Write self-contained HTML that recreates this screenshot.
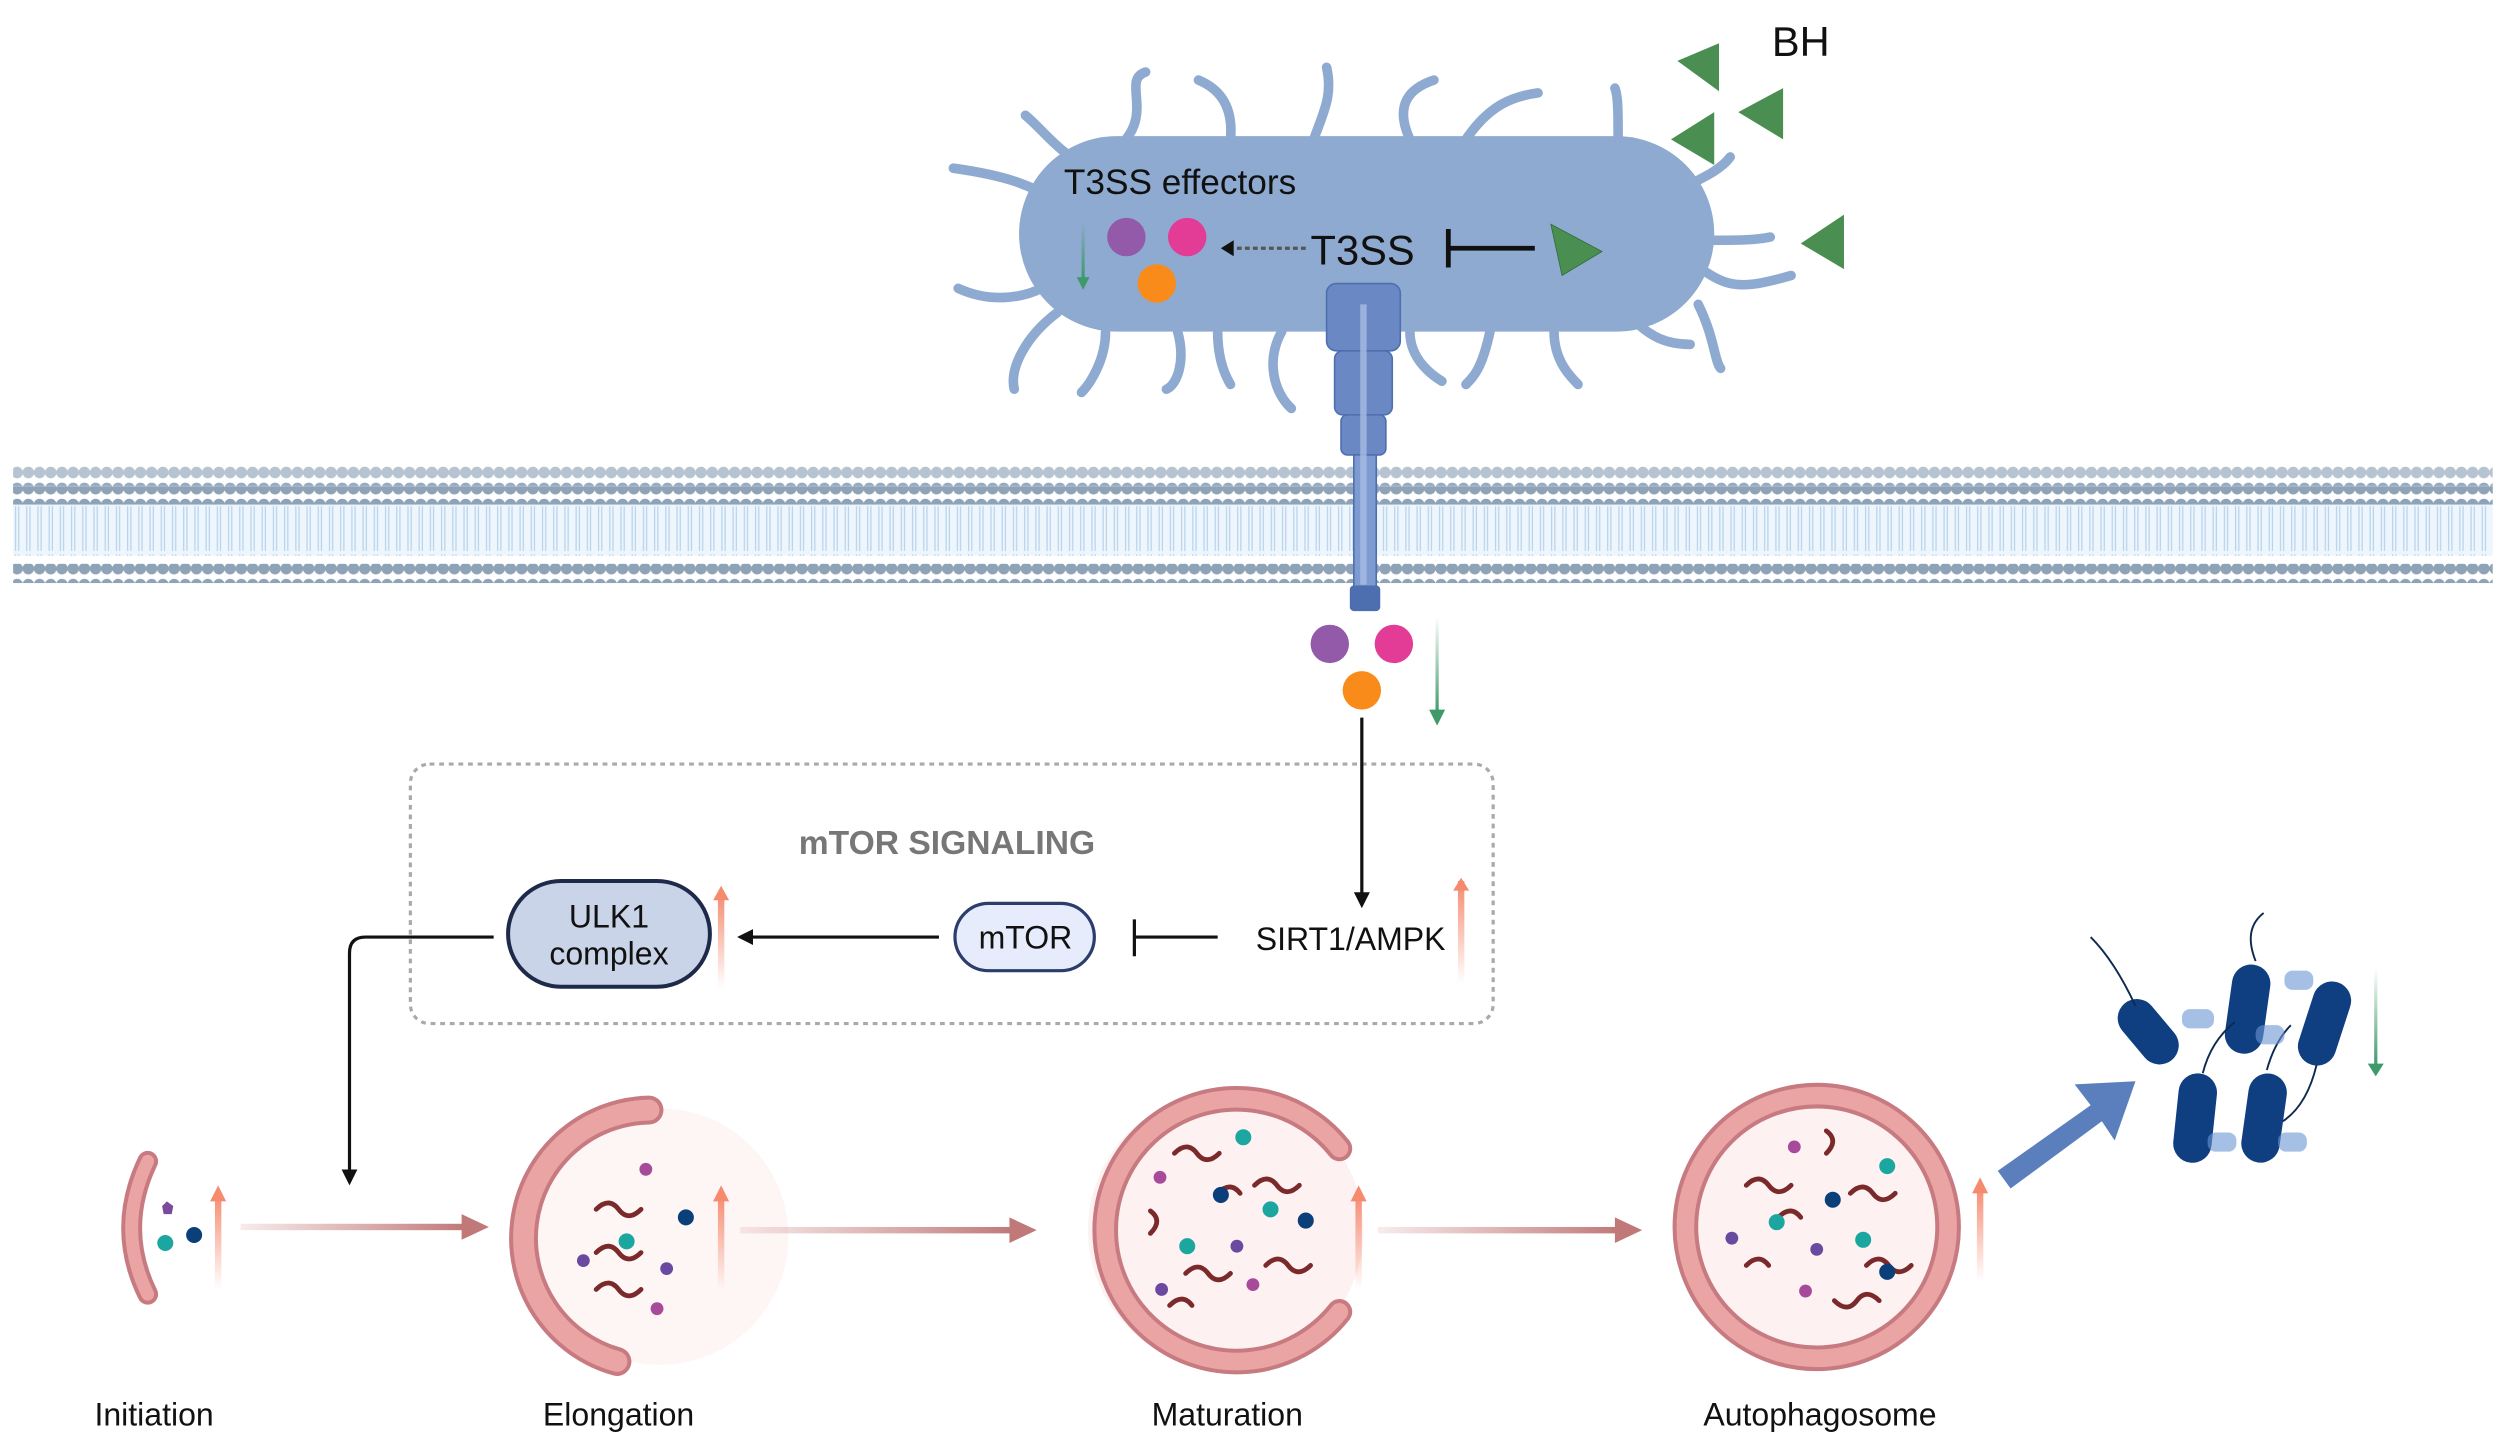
<!DOCTYPE html>
<html><head><meta charset="utf-8"><style>
html,body{margin:0;padding:0;background:#fff}
svg{display:block}
text{font-family:"Liberation Sans",sans-serif}
</style></head><body>
<svg width="2493" height="1432" viewBox="0 0 1556 894" xmlns="http://www.w3.org/2000/svg">
<defs>
<pattern id="heads" width="7" height="10" patternUnits="userSpaceOnUse"><circle cx="3.5" cy="5" r="3.6" fill="#8fa3b8"/></pattern>
<pattern id="headsL" width="7" height="10" patternUnits="userSpaceOnUse"><circle cx="3.5" cy="5" r="3.6" fill="#b6c4d2"/></pattern>
<pattern id="tails" width="7" height="30" patternUnits="userSpaceOnUse"><path d="M2.5 0V14M4.5 0V14M2.5 16V30M4.5 16V30" stroke="#b9d3ea" stroke-width="0.8"/></pattern>
<linearGradient id="gUp" x1="0" y1="1" x2="0" y2="0"><stop offset="0" stop-color="#f58a6f" stop-opacity="0"/><stop offset="1" stop-color="#f58a6f"/></linearGradient>
<linearGradient id="gDn" x1="0" y1="0" x2="0" y2="1"><stop offset="0" stop-color="#3f9a6a" stop-opacity="0"/><stop offset="1" stop-color="#3f9a6a"/></linearGradient>
<linearGradient id="gR" x1="0" y1="0" x2="1" y2="0"><stop offset="0" stop-color="#c98080" stop-opacity="0.15"/><stop offset="1" stop-color="#c07878"/></linearGradient>
<marker id="ab" markerWidth="10" markerHeight="10" refX="8" refY="5" orient="auto" markerUnits="userSpaceOnUse"><path d="M0 0L10 5L0 10Z" fill="#111"/></marker>
</defs>

<!-- membrane -->
<rect x="8" y="313" width="1548" height="34" fill="#eef6fd"/>
<rect x="8" y="313" width="1548" height="34" fill="url(#tails)"/>
<rect x="8" y="291" width="1548" height="12" fill="url(#headsL)"/>
<rect x="8" y="299" width="1548" height="12" fill="url(#heads)" opacity="0.8"/>
<rect x="8" y="304" width="1548" height="11" fill="url(#heads)"/>
<rect x="8" y="352" width="1548" height="12" fill="url(#heads)"/>

<!-- bacterium hairs -->
<g stroke="#8faad0" stroke-width="6" fill="none" stroke-linecap="round">
<path d="M680 105C660 95 650 80 640 72"/><path d="M700 90C720 70 700 50 715 45"/><path d="M768 87C770 65 760 55 748 50"/><path d="M820 87C826 70 832 60 828 42"/>
<path d="M880 87C870 65 880 55 895 50"/><path d="M915 87C930 65 945 60 960 58"/><path d="M1010 87C1010 70 1010 60 1008 55"/>
<path d="M660 125C640 115 630 110 595 105"/><path d="M650 180C640 185 620 190 598 180"/><path d="M660 195C640 210 630 230 633 243"/>
<path d="M690 207C690 225 680 240 675 245"/><path d="M735 207C740 225 735 240 728 243"/><path d="M760 207C760 225 765 235 768 240"/>
<path d="M800 207C790 225 795 245 806 255"/><path d="M880 207C880 225 895 235 900 238"/><path d="M930 207C925 230 920 235 915 240"/>
<path d="M970 207C970 225 980 235 985 240"/><path d="M1020 200C1030 210 1040 215 1055 215"/><path d="M1060 190C1070 210 1070 225 1074 230"/>
<path d="M1065 170C1080 180 1090 180 1118 172"/><path d="M1065 150C1085 150 1095 150 1105 148"/><path d="M1055 115C1065 110 1075 105 1080 98"/>
</g>
<rect x="636" y="85" width="434" height="122" rx="61" fill="#8faad0"/>
<!-- T3SS apparatus -->
<g fill="#6a88c4" stroke="#4d6fb0" stroke-width="1">
<rect x="828" y="177" width="46" height="42" rx="6"/>
<rect x="833" y="219" width="36" height="40" rx="5"/>
<rect x="837" y="259" width="28" height="25" rx="4"/>
<rect x="845" y="284" width="14" height="82" fill="#7d9bd0"/>
<rect x="843" y="366" width="18" height="15" rx="2" fill="#4d6fb0"/>
</g>
<rect x="849" y="190" width="4" height="175" fill="#a9bde3" opacity="0.8"/>

<text x="664" y="121" font-size="22" fill="#111">T3SS effectors</text>
<circle cx="703" cy="148" r="12" fill="#925aa8"/><circle cx="741" cy="148" r="12" fill="#e23c96"/><circle cx="722" cy="177" r="12" fill="#f98b1a"/>
<rect x="675" y="138" width="2" height="36" fill="url(#gDn)"/><path d="M672 173L676 181L680 173Z" fill="#3f9a6a"/>
<line x1="815" y1="155" x2="770" y2="155" stroke="#555" stroke-width="2" stroke-dasharray="3,2"/><path d="M770 150L762 155L770 160Z" fill="#111"/>
<text x="818" y="165" font-size="26" fill="#111">T3SS</text>
<path d="M904 143V167M904 155H958" stroke="#111" stroke-width="3" fill="none"/>
<path d="M968 140L1000 157L975 172Z" fill="#4a8f51" stroke="#2e6e38" stroke-width="0.5"/>
<text x="1106" y="35" font-size="26" fill="#111">BH</text>
<g fill="#4a8f51"><path d="M1073 27L1073 57L1047 38Z"/><path d="M1113 55L1113 87L1085 70Z"/><path d="M1070 70L1070 103L1043 87Z"/><path d="M1151 134L1151 168L1124 152Z"/></g>

<!-- effectors below -->
<circle cx="830" cy="402" r="12" fill="#925aa8"/><circle cx="870" cy="402" r="12" fill="#e23c96"/><circle cx="850" cy="431" r="12" fill="#f98b1a"/>
<rect x="896" y="385" width="2" height="60" fill="url(#gDn)"/><path d="M892 443L897 453L902 443Z" fill="#3f9a6a"/>

<!-- mTOR box -->
<rect x="256" y="477" width="676" height="162" rx="12" fill="none" stroke="#aaa" stroke-width="2" stroke-dasharray="3,3"/>
<text x="591" y="533" font-size="21" font-weight="bold" fill="#777" text-anchor="middle">mTOR SIGNALING</text>
<line x1="850" y1="448" x2="850" y2="565" stroke="#111" stroke-width="2" marker-end="url(#ab)"/>
<text x="843" y="593" font-size="20" fill="#111" text-anchor="middle">SIRT1/AMPK</text>
<rect x="910" y="550" width="4" height="64" fill="url(#gUp)"/><path d="M907 556L912 548L917 556Z" fill="#f58a6f"/>
<path d="M760 585H708M708 574V597" stroke="#111" stroke-width="2" fill="none"/>
<rect x="596" y="564" width="87" height="42" rx="21" fill="#e6ecfb" stroke="#2a3d6b" stroke-width="2"/>
<text x="640" y="592" font-size="20" fill="#111" text-anchor="middle">mTOR</text>
<line x1="586" y1="585" x2="462" y2="585" stroke="#111" stroke-width="2" marker-end="url(#ab)"/>
<rect x="448" y="557" width="4" height="60" fill="url(#gUp)"/><path d="M445 562L450 553L455 562Z" fill="#f58a6f"/>
<rect x="317" y="550" width="126" height="66" rx="33" fill="#c9d4e8" stroke="#1d2a4a" stroke-width="2.5"/>
<text x="380" y="579" font-size="20" fill="#111" text-anchor="middle">ULK1</text>
<text x="380" y="602" font-size="20" fill="#111" text-anchor="middle">complex</text>
<path d="M308 585H228Q218 585 218 595V738" stroke="#111" stroke-width="2" fill="none" marker-end="url(#ab)"/>

<!-- stages -->
<path d="M92 725Q72 767 92 808" stroke="#c77b80" stroke-width="13" fill="none" stroke-linecap="round"/>
<path d="M92 725Q72 767 92 808" stroke="#eba4a4" stroke-width="8" fill="none" stroke-linecap="round"/>
<path d="M104 750l4 3-1 5h-5l-1-5z" fill="#7b4aa0"/><circle cx="103" cy="776" r="5" fill="#1ca6a0"/><circle cx="121" cy="771" r="5" fill="#0a3f7a"/>
<rect x="134" y="745" width="4" height="60" fill="url(#gUp)"/><path d="M131 750L136 740L141 750Z" fill="#f58a6f"/>
<rect x="150" y="764" width="140" height="4" fill="url(#gR)"/><path d="M288 758L305 766L288 774Z" fill="#c07878"/>

<circle cx="412" cy="772" r="80" fill="#fdf1f1" opacity="0.7"/>
<path d="M405 693A80 80 0 0 0 385 850" stroke="#c77b80" stroke-width="18" fill="none" stroke-linecap="round"/>
<path d="M405 693A80 80 0 0 0 385 850" stroke="#eba4a4" stroke-width="13" fill="none" stroke-linecap="round"/>
<g stroke="#7a2a2a" stroke-width="3" fill="none" stroke-linecap="round"><path d="M372 755q8-8 14 0t14 0"/><path d="M372 782q8-8 14 0t14 0"/><path d="M372 805q8-8 14 0t14 0"/></g>
<circle cx="391" cy="775" r="5" fill="#1ca6a0"/><circle cx="428" cy="760" r="5" fill="#0a3f7a"/><circle cx="403" cy="730" r="4" fill="#a84a9a"/><circle cx="364" cy="787" r="4" fill="#6a4aa0"/><circle cx="416" cy="792" r="4" fill="#6a4aa0"/><circle cx="410" cy="817" r="4" fill="#a84a9a"/>
<rect x="448" y="745" width="4" height="60" fill="url(#gUp)"/><path d="M445 750L450 740L455 750Z" fill="#f58a6f"/>
<rect x="462" y="766" width="170" height="4" fill="url(#gR)"/><path d="M630 760L647 768L630 776Z" fill="#c07878"/>

<circle cx="765" cy="768" r="86" fill="#fdf1f1"/>
<path d="M836 717A82 82 0 1 0 836 819" stroke="#c77b80" stroke-width="16" fill="none" stroke-linecap="round"/>
<path d="M836 717A82 82 0 1 0 836 819" stroke="#eba4a4" stroke-width="11" fill="none" stroke-linecap="round"/>
<g stroke="#7a2a2a" stroke-width="3" fill="none" stroke-linecap="round"><path d="M733 720q8-8 14 0t14 0"/><path d="M783 740q8-8 14 0t14 0"/><path d="M718 770q8-8 0-14"/><path d="M740 795q8-8 14 0t14 0"/><path d="M730 815q8-8 14 0"/><path d="M790 790q8-8 14 0t14 0"/><path d="M760 745q8-8 14 0"/></g>
<circle cx="776" cy="710" r="5" fill="#1ca6a0"/><circle cx="762" cy="746" r="5" fill="#0a3f7a"/><circle cx="793" cy="755" r="5" fill="#1ca6a0"/><circle cx="741" cy="778" r="5" fill="#1ca6a0"/><circle cx="815" cy="762" r="5" fill="#0a3f7a"/><circle cx="724" cy="735" r="4" fill="#a84a9a"/><circle cx="772" cy="778" r="4" fill="#6a4aa0"/><circle cx="725" cy="805" r="4" fill="#6a4aa0"/><circle cx="782" cy="802" r="4" fill="#a84a9a"/>
<rect x="846" y="745" width="4" height="60" fill="url(#gUp)"/><path d="M843 750L848 740L853 750Z" fill="#f58a6f"/>
<rect x="860" y="766" width="150" height="4" fill="url(#gR)"/><path d="M1008 760L1025 768L1008 776Z" fill="#c07878"/>

<circle cx="1134" cy="766" r="82" fill="#fdf1f1" stroke="#c77b80" stroke-width="16"/>
<circle cx="1134" cy="766" r="82" fill="none" stroke="#eba4a4" stroke-width="11"/>
<g stroke="#7a2a2a" stroke-width="3" fill="none" stroke-linecap="round"><path d="M1140 720q8-8 0-14"/><path d="M1090 740q8-8 14 0t14 0"/><path d="M1155 745q8-8 14 0t14 0"/><path d="M1090 790q8-8 14 0"/><path d="M1110 760q8-8 14 0"/><path d="M1165 790q8-8 14 0t14 0"/><path d="M1145 812q8 8 14 0t14 0"/></g>
<circle cx="1178" cy="728" r="5" fill="#1ca6a0"/><circle cx="1144" cy="749" r="5" fill="#0a3f7a"/><circle cx="1109" cy="763" r="5" fill="#1ca6a0"/><circle cx="1163" cy="774" r="5" fill="#1ca6a0"/><circle cx="1178" cy="794" r="5" fill="#0a3f7a"/><circle cx="1120" cy="716" r="4" fill="#a84a9a"/><circle cx="1081" cy="773" r="4" fill="#6a4aa0"/><circle cx="1134" cy="780" r="4" fill="#6a4aa0"/><circle cx="1127" cy="806" r="4" fill="#a84a9a"/>
<rect x="1234" y="740" width="4" height="60" fill="url(#gUp)"/><path d="M1231 745L1236 735L1241 745Z" fill="#f58a6f"/>

<!-- big arrow -->
<path d="M1247 731L1305 690L1295 677L1333 675L1320 712L1312 700L1255 742Z" fill="#5b7fbd"/>

<!-- bacteria cluster -->
<g fill="#0f3f80">
<rect x="1330" y="620" width="24" height="46" rx="12" transform="rotate(-40 1343 645)"/>
<rect x="1391" y="602" width="24" height="56" rx="12" transform="rotate(8 1403 630)"/>
<rect x="1439" y="612" width="24" height="54" rx="12" transform="rotate(18 1451 639)"/>
<rect x="1358" y="670" width="24" height="56" rx="12" transform="rotate(6 1370 700)"/>
<rect x="1401" y="670" width="24" height="56" rx="12" transform="rotate(8 1413 700)"/>
</g>
<g stroke="#0f2a50" stroke-width="1.2" fill="none"><path d="M1333 628Q1320 600 1305 585"/><path d="M1408 600Q1400 580 1413 570"/><path d="M1446 665Q1440 690 1425 700"/><path d="M1375 670Q1380 650 1395 638"/><path d="M1415 668Q1420 650 1430 640"/></g>
<g fill="#6b95d4" opacity="0.6"><rect x="1362" y="630" width="20" height="12" rx="5"/><rect x="1408" y="640" width="18" height="12" rx="5"/><rect x="1426" y="606" width="18" height="12" rx="5"/><rect x="1378" y="707" width="18" height="12" rx="5"/><rect x="1422" y="707" width="18" height="12" rx="5"/></g>
<rect x="1482" y="605" width="2" height="60" fill="url(#gDn)"/><path d="M1478 664L1483 672L1488 664Z" fill="#3f9a6a"/>

<g font-size="20" fill="#111" text-anchor="middle">
<text x="96" y="890">Initiation</text><text x="386" y="890">Elongation</text><text x="766" y="890">Maturation</text><text x="1136" y="890">Autophagosome</text>
</g>
</svg>
</body></html>
